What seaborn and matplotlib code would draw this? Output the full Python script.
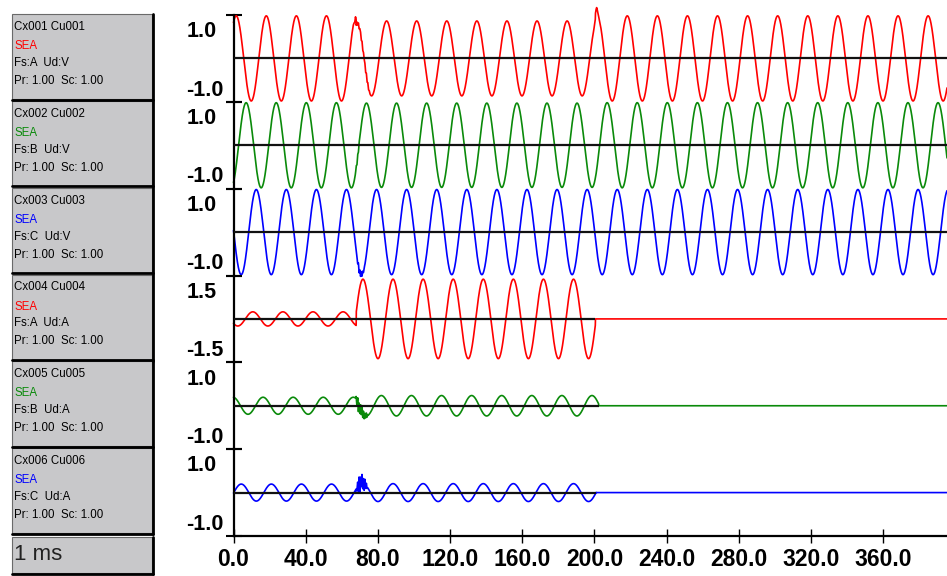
import numpy as np
import pandas as pd
import matplotlib
matplotlib.use("Agg")
import matplotlib.pyplot as plt
import seaborn as sns
from matplotlib.patches import Rectangle
from matplotlib.lines import Line2D

# ------------------------------------------------------------------ data
CH_NAMES = ["Cx001 Cu001", "Cx002 Cu002", "Cx003 Cu003",
            "Cx004 Cu004", "Cx005 Cu005", "Cx006 Cu006"]
CH_TAG = ["SEA", "SEA", "SEA", "SEA", "SEA", "SEA"]
CH_PHASE = ["A", "B", "C", "A", "B", "C"]
CH_UNIT = ["V", "V", "V", "A", "A", "A"]
CH_PR = ["1.00"] * 6
CH_SC = ["1.00"] * 6
CH_COLORS = ["#ff0000", "#0a8a0a", "#0000ff", "#ff0000", "#0a8a0a", "#0000ff"]
CH_SCALE = [1.0, 1.0, 1.0, 1.5, 1.0, 1.0]
CH_SCALE_LABELS = ["1.0", "1.0", "1.0", "1.5", "1.0", "1.0"]

X_TICKS = [0, 40, 80, 120, 160, 200, 240, 280, 320, 360]
X_TICK_LABELS = ["0.0", "40.0", "80.0", "120.0", "160.0", "200.0",
                 "240.0", "280.0", "320.0", "360.0"]
TIME_BASE_LABEL = "1 ms"

# waveform parameters read from the record (times in ms)
FREQ_HZ = 60.0
T_END_MS = 395.3
FAULT_MS = 68.0
CLEAR_MS = [200.5, 200.5, 200.5, 200.5, 202.3, 201.0]   # voltage recovery / current interruption
PRE_AMP = [1.00, 1.00, 1.00, 0.25, 0.20, 0.20]
PRE_PEAK_MS = [1.5, 7.0, 12.6, 10.7, -0.3, 4.3]
FAULT_AMP = [0.88, 0.99, 1.00, 1.40, 0.24, 0.21]
FAULT_PEAK_MS = [1.5, 7.0, 12.6, 5.05, -1.4, 5.05]
POST_AMP = [1.00, 1.00, 1.00, 0.0, 0.0, 0.0]
POST_PEAK_MS = [1.5, 7.0, 12.6, 0.0, 0.0, 0.0]
ZERO_LINE_END_MS = [395.3, 395.3, 395.3, 200.5, 202.3, 201.0]

# disturbance samples (0.4 ms apart) read around fault inception
DIST_STEP_MS = 0.4
DIST_START_MS = [66.4, 67.6, 68.4, 68.0, 67.6, 68.4]
DIST_VALUES = [
    [0, -0.04, -0.08, 0.0, -0.10, -0.02, -0.07, 0.02, -0.06, 0.02, 0.03, -0.06,
     0.04, -0.05, 0.03, 0, 0.04, -0.05, 0.06, -0.04, 0.05, -0.03, 0.02, 0],
    [0, 0.05, -0.06, 0.04, -0.05, 0.03, 0],
    [0, -0.05, 0.07, -0.08, 0.05, -0.06, 0.07, -0.04, 0.05, -0.03, 0.02, 0],
    [0],
    [0, 0.06, -0.10, 0.13, -0.16, 0.08, -0.13, 0.11, -0.09, 0.15, -0.10, 0.07,
     -0.09, 0.05, -0.05, 0.07, -0.03, 0.02, 0],
    [0, 0.15, -0.10, 0.22, -0.15, 0.18, -0.06, 0.22, -0.12, 0.12, -0.15, 0.12,
     -0.08, 0.06, -0.04, 0],
]
# transient on phase A voltage when the fault clears
CLEAR_TRANSIENT_START_MS = 199.6
CLEAR_TRANSIENT = [0, 0.04, 0.10, 0.17, 0.20, 0.13, 0.06, 0.02, 0]

# ------------------------------------------------------------------ build series
t = np.arange(0.0, T_END_MS + 0.05, 0.05)
w = 2 * np.pi * FREQ_HZ / 1000.0


def channel_series(i):
    v = np.where(
        t < FAULT_MS, PRE_AMP[i] * np.cos(w * (t - PRE_PEAK_MS[i])),
        np.where(t < CLEAR_MS[i], FAULT_AMP[i] * np.cos(w * (t - FAULT_PEAK_MS[i])),
                 POST_AMP[i] * np.cos(w * (t - POST_PEAK_MS[i]))))
    vals = DIST_VALUES[i]
    if len(vals) > 1:
        td = DIST_START_MS[i] + DIST_STEP_MS * np.arange(len(vals))
        v = v + np.interp(t, td, vals, left=0, right=0)
    if i == 0:
        td = CLEAR_TRANSIENT_START_MS + DIST_STEP_MS * np.arange(len(CLEAR_TRANSIENT))
        v = v + np.interp(t, td, CLEAR_TRANSIENT, left=0, right=0)
    return pd.DataFrame({"t": t, "v": v})


# ------------------------------------------------------------------ figure
sns.set_theme(style="white")
plt.rcParams["font.family"] = ["Liberation Sans", "DejaVu Sans"]

W, H = 947, 576
fig = plt.figure(figsize=(W / 100, H / 100), dpi=100)
fig.patch.set_facecolor("white")


def fx(px):
    return px / W


def fy(py):
    return 1 - py / H


AX_LEFT, AX_RIGHT = 233.5, 947.0
BAND_TOP, BAND_BOTTOM = 15.0, 536.0
n = len(CH_NAMES)
band_h = (BAND_BOTTOM - BAND_TOP) / n

axes = []
for i in range(n):
    top = BAND_TOP + i * band_h
    ax = fig.add_axes([fx(AX_LEFT), fy(top + band_h), fx(AX_RIGHT - AX_LEFT), band_h / H])
    ax.set_facecolor("none")
    df = channel_series(i)
    sns.lineplot(data=df, x="t", y="v", ax=ax, color=CH_COLORS[i], linewidth=1.2,
                 estimator=None, sort=False, zorder=2)
    for ln in ax.lines:
        ln.set_clip_on(False)
    ax.hlines(0, 0, ZERO_LINE_END_MS[i], color="#111111", linewidth=1.6, zorder=3)

    lim = CH_SCALE[i] * 1.02
    ax.set_ylim(-lim, lim)
    ax.set_xlim(0, T_END_MS)
    ax.set_xlabel("")
    ax.set_ylabel("")
    for s in ["top", "right", "bottom"]:
        ax.spines[s].set_visible(False)
    ax.spines["left"].set_color("black")
    ax.spines["left"].set_linewidth(1.6)

    lab_pos = 0.67 * lim
    ax.set_yticks([lab_pos, -lab_pos])
    ax.set_yticklabels([CH_SCALE_LABELS[i], "-" + CH_SCALE_LABELS[i]],
                       fontsize=15.5, fontweight="bold", ha="left")
    ax.set_yticks([lim, -lim], minor=True)
    ax.tick_params(axis="y", which="major", length=0, pad=34, colors="black")
    ax.tick_params(axis="y", which="minor", length=12, width=1.5, direction="inout",
                   color="black", left=True)
    axes.append(ax)

    if i < n - 1:
        ax.set_xticks([])
    else:
        ax.spines["bottom"].set_visible(True)
        ax.spines["bottom"].set_color("black")
        ax.spines["bottom"].set_linewidth(1.6)
        ax.set_xticks(X_TICKS)
        ax.set_xticklabels(X_TICK_LABELS, fontsize=16.5, fontweight="bold")
        ax.tick_params(axis="x", which="major", length=9.5, width=1.0,
                       direction="inout", bottom=True, pad=4, colors="black")

# ------------------------------------------------------------------ left info boxes
BOX_L, BOX_R = 12.0, 152.0
BOX_FILL = "#c8c8ca"


def draw_box(top, bottom):
    fig.add_artist(Rectangle((fx(BOX_L), fy(bottom)), fx(BOX_R - BOX_L), (bottom - top) / H,
                             transform=fig.transFigure, facecolor=BOX_FILL,
                             edgecolor="#6a6a6a", linewidth=0.8, zorder=1))
    fig.add_artist(Line2D([fx(BOX_L), fx(BOX_R + 1)], [fy(bottom + 0.5)] * 2,
                          transform=fig.transFigure, color="black", linewidth=2.0))
    fig.add_artist(Line2D([fx(BOX_R + 0.5)] * 2, [fy(top), fy(bottom + 1)],
                          transform=fig.transFigure, color="black", linewidth=2.0))


for i in range(n):
    top = BAND_TOP + i * band_h - 1
    bottom = top + band_h - 1.8
    draw_box(top, bottom)
    lines = [
        (CH_NAMES[i], "black", 13),
        (CH_TAG[i], CH_COLORS[i], 32),
        (f"Fs:{CH_PHASE[i]}  Ud:{CH_UNIT[i]}", "black", 49),
        (f"Pr: {CH_PR[i]}  Sc: {CH_SC[i]}", "black", 67),
    ]
    for txt, col, off in lines:
        fig.text(fx(14), fy(top + off), txt, color=col, fontsize=8.3,
                 ha="left", va="center")

draw_box(537, 573)
fig.text(fx(14), fy(555), TIME_BASE_LABEL, fontsize=16, color="#222222",
         ha="left", va="center")

fig.savefig("out.png", dpi=100, facecolor="white")
